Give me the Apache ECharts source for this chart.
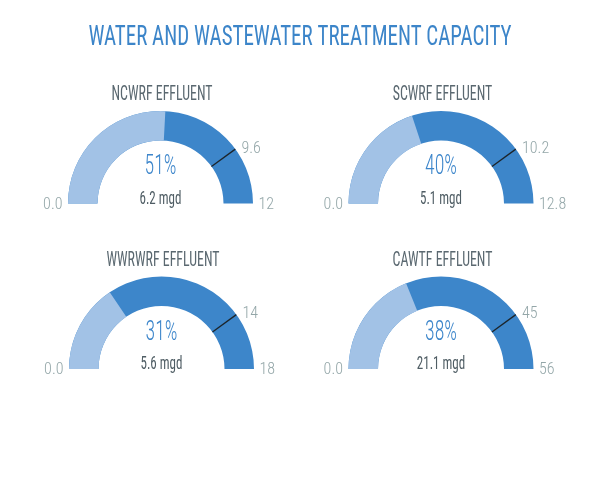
<!DOCTYPE html>
<html><head><meta charset="utf-8">
<script src="https://cdn.jsdelivr.net/npm/echarts@6/dist/echarts.min.js"></script>
<style>html,body{margin:0;padding:0;background:#fff}#c{width:600px;height:491px}</style>
</head><body><div id="c"></div>
<script>
// ---- data ----
const chartTitle = 'WATER AND WASTEWATER TREATMENT CAPACITY';
const names = ['NCWRF EFFLUENT', 'SCWRF EFFLUENT', 'WWRWRF EFFLUENT', 'CAWTF EFFLUENT'];
const capacities = [12, 12.8, 18, 56];
const capacityLabels = ['12', '12.8', '18', '56'];
const flows = [6.2, 5.1, 5.6, 21.1];
const percents = [51, 40, 31, 38];
const thresholds = [9.6, 10.24, 14.4, 44.8];
const thresholdLabels = ['9.6', '10.2', '14', '45'];
const minLabel = '0.0';

// ---- layout / style ----
const centers = [[160.5, 203.5], [441, 203.5], [161.5, 369], [441, 369]];
const R = 92.5, BAND = 29.5;
const LIGHT = '#a2c2e6', DARK = '#3d86ca';
const FONT = "'Liberation Sans Narrow','Roboto Condensed',Roboto,sans-serif";
const LABEL_COLOR = '#93a6a8';

const meas = document.createElement('canvas').getContext('2d');
function tw(text, size, weight) { meas.font = weight + ' ' + size + 'px ' + FONT; return meas.measureText(text).width; }

const titleScale = 423 / tw(chartTitle, 28, 'normal');
const subScale = 101 / tw(names[0], 20, 'normal');
const pctScale = 32 / tw(percents[0] + '%', 28, '300');
const mgdScale = 42 / tw(flows[0].toFixed(1) + ' mgd', 19, 'normal');

function gtext(text, x, y, size, weight, color, scale) {
  return { type: 'text', x: x, y: y, scaleX: scale, scaleY: 1, silent: true,
    style: { text: text, x: 0, y: 0, fill: color, fontSize: size, fontWeight: weight, fontFamily: FONT,
      align: 'center', verticalAlign: 'middle' } };
}

const labelBase = { fontSize: 16, color: LABEL_COLOR, fontFamily: FONT, fontWeight: 300 };
const rich = {
  lo: Object.assign({ width: 30, align: 'right', padding: [2, 0, 0, 0] }, labelBase),
  hi: Object.assign({ width: 30, align: 'left', padding: [2, 0, 0, 0] }, labelBase),
  th: Object.assign({ width: 22, align: 'left', padding: [40, 0, 0, 0] }, labelBase)
};
const hidden = {
  axisTick: { show: false }, splitLine: { show: false, length: 0, distance: 0 },
  anchor: { show: false }, title: { show: false }, detail: { show: false }
};

const graphic = [gtext(chartTitle, 300, 37.5, 28, 'normal', '#3c85c9', titleScale)];
const series = [];
names.forEach(function (name, i) {
  const cx = centers[i][0], cy = centers[i][1];
  const cap = capacities[i], thr = thresholds[i];
  graphic.push(gtext(name, cx + 1.5, cy - 108.5, 20, 'normal', '#5a6870', subScale));
  graphic.push(gtext(percents[i] + '%', cx, cy - 36.5, 28, '300', '#3d86cb', pctScale));
  graphic.push(gtext(flows[i].toFixed(1) + ' mgd', cx, cy - 4.5, 19, 'normal', '#4f5d64', mgdScale));

  // main gauge: flow as progress over capacity
  series.push(Object.assign({
    type: 'gauge', center: [cx, cy], radius: R, startAngle: 180, endAngle: 0,
    min: 0, max: cap, splitNumber: 1,
    progress: { show: true, width: BAND, itemStyle: { color: LIGHT } },
    axisLine: { lineStyle: { width: BAND, color: [[1, DARK]] } },
    axisLabel: { distance: R - 128, rich: rich,
      formatter: function (v) { return v <= 0 ? '{lo|' + minLabel + '}' : '{hi|' + capacityLabels[i] + '}'; } },
    pointer: { show: false },
    data: [{ value: flows[i], name: name }]
  }, hidden));

  // threshold marker line
  series.push(Object.assign({
    type: 'gauge', center: [cx, cy], radius: R, startAngle: 180, endAngle: 0,
    min: 0, max: cap,
    axisLine: { show: false }, progress: { show: false }, axisLabel: { show: false },
    pointer: { show: true, icon: 'rect', width: 1.3, length: BAND, offsetCenter: [0, -(R - BAND)],
      itemStyle: { color: '#1c242a' } },
    data: [{ value: thr }]
  }, hidden));

  // threshold label
  series.push(Object.assign({
    type: 'gauge', center: [cx, cy], radius: R, startAngle: 180, endAngle: 180 - 180 * thr / cap,
    min: 0, max: thr, splitNumber: 1,
    axisLine: { show: false }, progress: { show: false },
    axisLabel: { distance: R - 127.3, rich: rich,
      formatter: function (v) { return v <= 0 ? '' : '{th|' + thresholdLabels[i] + '}'; } },
    pointer: { show: false },
    data: [{ value: thr }]
  }, hidden));
});

const chart = echarts.init(document.getElementById('c'), null, { renderer: 'canvas' });
chart.setOption({ animation: false, backgroundColor: '#fff', graphic: graphic, series: series });
</script>
</body></html>
